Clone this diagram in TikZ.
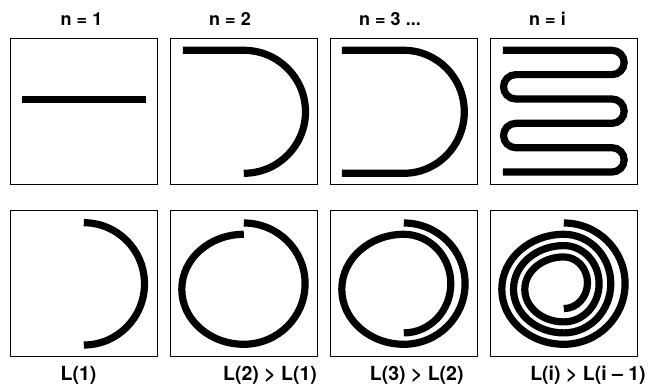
\documentclass[tikz,border=0pt]{standalone}
\usepackage{fontspec}
\setmainfont{TeX Gyre Heros}
\usetikzlibrary{calc, positioning}

\begin{document}
\begin{tikzpicture}[x=1pt, y=1pt,
  panel/.style={draw, line width=1.6pt, minimum width=147pt, minimum height=146pt, inner sep=0pt},
  wire/.style={line width=7.2pt},
  toplabel/.style={anchor=base, inner sep=0pt, font=\fontsize{18}{21}\selectfont\bfseries},
  botlabel/.style={anchor=base, inner sep=0pt, font=\fontsize{19.5}{22}\selectfont\bfseries}]
\def\pitch{160}
\def\rt{12.175}
\def\run{96.3}
\useasboundingbox (0,0) rectangle (649,385);

% Eight panels
\foreach \i in {1,...,4} {
  \node[panel] (top\i) at ({83.8+\pitch*(\i-1)},273.5) {};
  \node[panel] (bot\i) at ({83.8+\pitch*(\i-1)},101.5) {};
}

% Top row: the wire folded n times
\draw[wire] ([shift={(-62,11.8)}]top1.center) -- ++(124,0);
\draw[wire] ([shift={(-61,61.2)}]top2.center) -- ++(61,0)
  arc[start angle=90, end angle=-90, x radius=61.7, y radius=61.5];
\draw[wire] ([shift={(-62,61.2)}]top3.center) -- ++(62,0)
  arc[start angle=90, end angle=-90, x radius=60.5, y radius=61.5] -- ++(-62,0);
\draw[wire] ([shift={(-61,61.2)}]top4.center) -- ++(109.2,0)
  arc[start angle=90, end angle=-90, radius=\rt] -- ++(-\run,0)
  arc[start angle=90, end angle=270, radius=\rt] -- ++(\run,0)
  arc[start angle=90, end angle=-90, radius=\rt] -- ++(-\run,0)
  arc[start angle=90, end angle=270, radius=\rt] -- ++(\run,0)
  arc[start angle=90, end angle=-90, radius=\rt] -- ++(-109.2,0);

% Bottom row: the wire wound up
\draw[wire] ([shift={(0,60.8)}]bot1.center)
  arc[start angle=90, end angle=-90, x radius=60.7, y radius=61.15];
\draw[wire] ([shift={(0,60.5)}]bot2.center)
  arc[start angle=90, end angle=-90, x radius=61.3, y radius=60.65]
  arc[start angle=-90, end angle=-270, x radius=62, y radius=55];
\draw[wire] ([shift={(0,60.5)}]bot3.center)
  arc[start angle=90, end angle=-90, x radius=61.3, y radius=60.65]
  arc[start angle=-90, end angle=-270, x radius=62, y radius=55]
  arc[start angle=90, end angle=-90, x radius=47, y radius=49.3];
\draw[wire] ([shift={(0,60.5)}]bot4.center)
  arc[start angle=90, end angle=-90, x radius=61.3, y radius=60.65]
  arc[start angle=-90, end angle=-270, x radius=62, y radius=55]
  arc[start angle=90, end angle=-90, x radius=47, y radius=49.3]
  arc[start angle=-90, end angle=-270, x radius=50.3, y radius=43.65]
  arc[start angle=90, end angle=-90, x radius=35.3, y radius=38.15]
  arc[start angle=-90, end angle=-270, x radius=39, y radius=32.5]
  arc[start angle=90, end angle=-90, x radius=23.7, y radius=25.85];

% Labels
\node[toplabel] (n1) at (81.5,359) {n = 1};
\node[toplabel] (n2) at (230,359) {n = 2};
\node[toplabel] (n3) at (390,359) {n = 3 ...};
\node[toplabel] (ni) at (547.5,359) {n = i};
\node[botlabel] (L1) at (78.5,4.3) {L(1)};
\node[botlabel] (L2) at (270,4.3) {L(2) > L(1)};
\node[botlabel] (L3) at (416.7,4.3) {L(3) > L(2)};
\node[botlabel] (Li) at (588,4.3) {L(i) > L(i – 1)};
\end{tikzpicture}
\end{document}
